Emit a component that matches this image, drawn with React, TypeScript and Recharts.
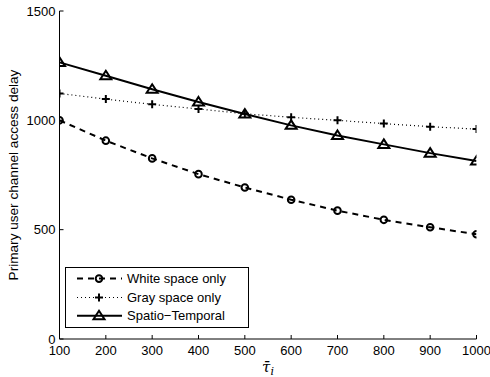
import { LineChart, Line, XAxis, YAxis, Legend } from 'recharts';

const tauValues = [100, 200, 300, 400, 500, 600, 700, 800, 900, 1000];
const whiteSpace = [1000, 907, 826, 754, 693, 637, 587, 545, 511, 479];
const graySpace = [1123, 1097, 1073, 1052, 1030, 1014, 1000, 985, 971, 960];
const spatioTemporal = [1265, 1204, 1142, 1084, 1029, 977, 931, 890, 850, 814];

const xTicks = [100, 200, 300, 400, 500, 600, 700, 800, 900, 1000];
const yTicks = [0, 500, 1000, 1500];

const data = tauValues.map((tau, i) => ({
  tau,
  white: whiteSpace[i],
  gray: graySpace[i],
  spatio: spatioTemporal[i],
}));

const FONT = '"Liberation Sans", Arial, Helvetica, sans-serif';
const TICK_LEN = 4;

type MarkerKind = 'circle' | 'plus' | 'triangle';

function Marker({ kind, cx, cy }: { kind: MarkerKind; cx: number; cy: number }) {
  if (kind === 'circle') {
    return <circle cx={cx} cy={cy} r={3.3} fill="none" stroke="#000" strokeWidth={2} />;
  }
  if (kind === 'plus') {
    return (
      <path
        d={`M${cx - 4},${cy}H${cx + 4}M${cx},${cy - 4}V${cy + 4}`}
        stroke="#000"
        strokeWidth={2}
        fill="none"
      />
    );
  }
  return (
    <path
      d={`M${cx},${cy - 5}L${cx + 5.5},${cy + 3.5}L${cx - 5.5},${cy + 3.5}Z`}
      fill="none"
      stroke="#000"
      strokeWidth={2}
      strokeLinejoin="miter"
    />
  );
}

const series = [
  { key: 'white', name: 'White space only', dash: '6 5', width: 2, marker: 'circle' as MarkerKind },
  { key: 'gray', name: 'Gray space only', dash: '1 3', width: 1.2, marker: 'plus' as MarkerKind },
  { key: 'spatio', name: 'Spatio\u2212Temporal', dash: undefined, width: 2, marker: 'triangle' as MarkerKind },
];

const makeDot = (kind: MarkerKind, key: string) => (props: any) => (
  <g key={`${key}-${props.index}`}>
    <Marker kind={kind} cx={props.cx} cy={props.cy} />
  </g>
);

const BottomTick = (props: any) => {
  const { x, y, payload } = props;
  return (
    <g>
      <line x1={x} y1={y} x2={x} y2={y - TICK_LEN} stroke="#000" />
      <text x={x} y={y + 16} textAnchor="middle" fontSize={13} fontFamily={FONT} fill="#000">
        {payload.value}
      </text>
    </g>
  );
};

const TopTick = (props: any) => {
  const { x, y } = props;
  return <line x1={x} y1={y} x2={x} y2={y + TICK_LEN} stroke="#000" />;
};

const LeftTick = (props: any) => {
  const { x, y, payload } = props;
  return (
    <g>
      <line x1={x} y1={y} x2={x + TICK_LEN} y2={y} stroke="#000" />
      <text x={x - 4} y={y + 4.5} textAnchor="end" fontSize={13} fontFamily={FONT} fill="#000">
        {payload.value}
      </text>
    </g>
  );
};

const RightTick = (props: any) => {
  const { x, y } = props;
  return <line x1={x} y1={y} x2={x - TICK_LEN} y2={y} stroke="#000" />;
};

const LegendBox = () => {
  const rows = [11.6, 30.5, 48.8];
  return (
    <svg width={184} height={61} style={{ display: 'block' }}>
      <rect x={0.5} y={0.5} width={183} height={60} fill="#fff" stroke="#000" />
      {series.map((s, i) => (
        <g key={s.key}>
          <line
            x1={12}
            x2={57}
            y1={rows[i]}
            y2={rows[i]}
            stroke="#000"
            strokeWidth={s.width}
            strokeDasharray={s.dash}
          />
          <Marker kind={s.marker} cx={34} cy={rows[i]} />
          <text x={62} y={rows[i] + 4.5} fontSize={13} fontFamily={FONT} fill="#000">
            {s.name}
          </text>
        </g>
      ))}
    </svg>
  );
};

export default function App() {
  return (
    <div style={{ position: 'absolute', left: 0, top: 0, background: '#fff' }}>
      <LineChart
        width={490}
        height={377}
        data={data}
        margin={{ top: 11, right: 13.5, left: 0, bottom: 0 }}
      >
        <XAxis
          dataKey="tau"
          type="number"
          domain={[100, 1000]}
          ticks={xTicks}
          allowDataOverflow
          height={38}
          tickSize={0}
          tickMargin={0}
          tickLine={false}
          tick={BottomTick}
          axisLine={{ stroke: '#000' }}
          interval={0}
          label={({ viewBox }: any) => (
            <text
              x={viewBox.x + viewBox.width / 2}
              y={viewBox.y + 33}
              textAnchor="middle"
              fontFamily='"DejaVu Serif", "Liberation Serif", serif'
              fontStyle="italic"
              fontSize={15}
              fill="#000"
            >
              {'\u03C4\u0304'}
              <tspan fontSize={11} dy={3}>i</tspan>
            </text>
          )}
        />
        <XAxis
          xAxisId="top"
          orientation="top"
          dataKey="tau"
          type="number"
          domain={[100, 1000]}
          ticks={xTicks}
          allowDataOverflow
          height={0}
          tickSize={0}
          tickMargin={0}
          tickLine={false}
          tick={TopTick}
          axisLine={{ stroke: '#000' }}
          interval={0}
        />
        <YAxis
          type="number"
          domain={[0, 1500]}
          ticks={yTicks}
          allowDataOverflow
          width={59.5}
          tickSize={0}
          tickMargin={0}
          tickLine={false}
          tick={LeftTick}
          axisLine={{ stroke: '#000' }}
          interval={0}
          label={({ viewBox }: any) => (
            <text
              x={13}
              y={viewBox.y + viewBox.height / 2}
              transform={`rotate(-90, 13, ${viewBox.y + viewBox.height / 2})`}
              textAnchor="middle"
              dominantBaseline="central"
              fontFamily={FONT}
              fontSize={13.6}
              fill="#000"
            >
              Primary user channel access delay
            </text>
          )}
        />
        <YAxis
          yAxisId="right"
          orientation="right"
          type="number"
          domain={[0, 1500]}
          ticks={yTicks}
          allowDataOverflow
          width={0}
          tickSize={0}
          tickMargin={0}
          tickLine={false}
          tick={RightTick}
          axisLine={{ stroke: '#000' }}
          interval={0}
        />
        {series.map((s) => (
          <Line
            key={s.key}
            dataKey={s.key}
            name={s.name}
            type="linear"
            stroke="#000"
            strokeWidth={s.width}
            strokeDasharray={s.dash}
            dot={makeDot(s.marker, s.key)}
            activeDot={false}
            isAnimationActive={false}
          />
        ))}
        <Legend
          layout="horizontal"
          verticalAlign="middle"
          align="center"
          content={() => <LegendBox />}
          wrapperStyle={{ position: 'absolute', left: 65, top: 266.5, width: 184, height: 61 }}
        />
      </LineChart>
    </div>
  );
}
